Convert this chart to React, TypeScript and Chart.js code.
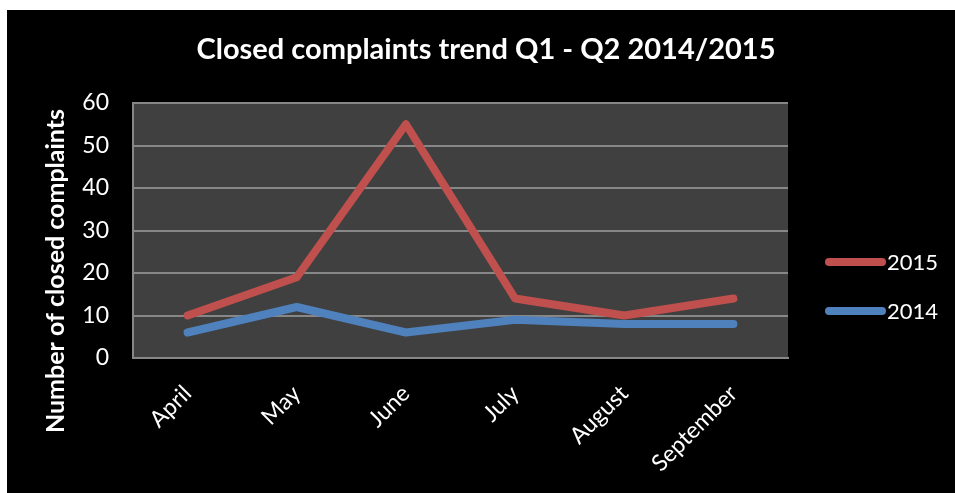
import React, { useEffect, useRef } from "react";
import { Chart, registerables } from "chart.js";

Chart.register(...registerables);

const categories = ["April", "May", "June", "July", "August", "September"];
const series2015 = [10, 19, 55, 14, 10, 14];
const series2014 = [6, 12, 6, 9, 8, 8];
const seriesNames = ["2015", "2014"];
const yTicks = [0, 10, 20, 30, 40, 50, 60];
const chartTitle = "Closed complaints trend Q1 - Q2 2014/2015";
const yTitle = "Number of closed complaints";

const FONT = "Lato, 'Open Sans', sans-serif";
const GRID = "#878787";

const bgPlugin = {
  id: "plotBg",
  beforeDraw(chart: any) {
    const { ctx, chartArea } = chart;
    ctx.save();
    ctx.fillStyle = "#404040";
    ctx.fillRect(chartArea.left, chartArea.top, chartArea.right - chartArea.left, chartArea.bottom - chartArea.top);
    ctx.restore();
  },
};

const extrasPlugin = {
  id: "extras",
  afterDraw(chart: any) {
    const { ctx } = chart;
    // chart title
    ctx.save();
    ctx.fillStyle = "#ffffff";
    ctx.font = `bold 29px ${FONT}`;
    ctx.textAlign = "center";
    ctx.textBaseline = "middle";
    ctx.fillText(chartTitle, 479, 40);
    ctx.restore();

    // y-axis title
    ctx.save();
    ctx.translate(49, 261);
    ctx.rotate(-Math.PI / 2);
    ctx.fillStyle = "#ffffff";
    ctx.font = `bold 25px ${FONT}`;
    ctx.textAlign = "center";
    ctx.textBaseline = "middle";
    ctx.fillText(yTitle, 0, 0);
    ctx.restore();

    // legend
    const items = chart.data.datasets;
    ctx.save();
    items.forEach((ds: any, i: number) => {
      const y = 252 + i * 49;
      ctx.strokeStyle = ds.borderColor;
      ctx.lineWidth = 8;
      ctx.lineCap = "round";
      ctx.beginPath();
      ctx.moveTo(822, y);
      ctx.lineTo(875, y);
      ctx.stroke();
      ctx.fillStyle = "#ffffff";
      ctx.font = `22px ${FONT}`;
      ctx.textAlign = "left";
      ctx.textBaseline = "middle";
      ctx.fillText(ds.label, 880, y + 1);
    });
    ctx.restore();
  },
};

export default function App() {
  const ref = useRef<HTMLCanvasElement>(null);
  useEffect(() => {
    if (!ref.current) return;
    const chart = new Chart(ref.current, {
      type: "line",
      data: {
        labels: categories,
        datasets: [
          {
            label: seriesNames[0],
            data: series2015,
            borderColor: "#C0504D",
            backgroundColor: "#C0504D",
            borderWidth: 8,
            pointRadius: 0,
            tension: 0,
            borderCapStyle: "round",
            borderJoinStyle: "round",
          },
          {
            label: seriesNames[1],
            data: series2014,
            borderColor: "#4F81BD",
            backgroundColor: "#4F81BD",
            borderWidth: 8,
            pointRadius: 0,
            tension: 0,
            borderCapStyle: "round",
            borderJoinStyle: "round",
          },
        ],
      },
      options: {
        responsive: true,
        maintainAspectRatio: false,
        animation: false,
        layout: { padding: { left: 0, right: 167, top: 93, bottom: 0 } },
        plugins: {
          legend: { display: false },
          tooltip: { enabled: false },
          title: { display: false },
        },
        scales: {
          x: {
            offset: true,
            grid: { display: true, color: "transparent", drawTicks: false },
            border: { display: true, color: GRID, width: 2 },
            ticks: {
              color: "#ffffff",
              font: { family: FONT, size: 23 },
              minRotation: 45,
              maxRotation: 45,
              padding: 22,
            },
            afterFit: (scale: any) => {
              scale.height = 135;
            },
          },
          y: {
            min: 0,
            max: 60,
            afterBuildTicks: (scale: any) => {
              scale.ticks = yTicks.map((v) => ({ value: v }));
            },
            grid: { color: GRID, lineWidth: 2, drawTicks: false },
            border: { display: true, color: GRID, width: 2 },
            ticks: {
              color: "#ffffff",
              font: { family: FONT, size: 23 },
              padding: 24,
            },
            afterFit: (scale: any) => {
              scale.width = 126;
            },
          },
        },
      },
      plugins: [bgPlugin, extrasPlugin],
    });
    return () => chart.destroy();
  }, []);

  return (
    <div style={{ position: "fixed", left: 0, top: 0, width: 955, height: 493, background: "#ffffff" }}>
      <div style={{ position: "absolute", left: 7, top: 10, width: 948, height: 483, background: "#000000" }}>
        <canvas ref={ref} />
      </div>
    </div>
  );
}
